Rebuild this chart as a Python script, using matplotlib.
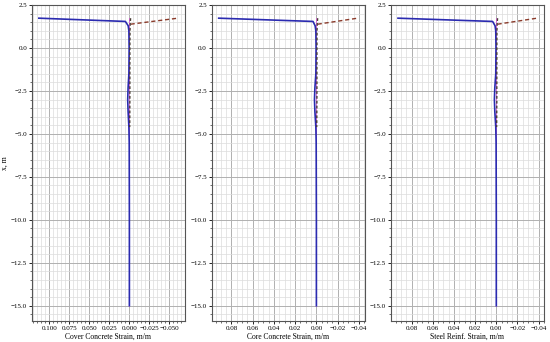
import numpy as np
import matplotlib
matplotlib.use("Agg")
from matplotlib import pyplot as plt
from matplotlib.ticker import AutoMinorLocator, MultipleLocator

plt.rcParams['font.family'] = ['Liberation Serif', 'DejaVu Serif']

# depth along pile, m
depth_blue = [1.74, 1.55, 1.3, 1.0, 0.0, -1.5, -2.3, -3.0, -3.7, -4.6, -5.5, -10.0, -15.0]
depth_dash = [1.74, 1.39, 1.0, 0.0, -1.0, -2.0, -3.0, -4.0, -4.6]
depth_red = [1.39, 1.74]

labels = ["Cover Concrete Strain, m/m", "Core Concrete Strain, m/m", "Steel Reinf. Strain, m/m"]
xstep = [0.025, 0.02, 0.02]

# strains for each panel
blue_strain = [
    [0.113, 0.005, 0.0015, 0.0006, 0.0003, 0.0006, 0.0016, 0.0021, 0.0016, 0.0006, 0.0002, 0.0, 0.0],
    [0.092, 0.0032, 0.0012, 0.0005, 0.0003, 0.0005, 0.0014, 0.0018, 0.0014, 0.0005, 0.0002, 0.0, 0.0],
    [0.093, 0.0035, 0.0012, 0.0005, 0.0003, 0.0005, 0.0014, 0.0018, 0.0014, 0.0005, 0.0002, 0.0, 0.0],
]
dash_strain = [
    [-0.0015, -0.001, -0.0008, -0.0006, -0.0006, -0.0006, -0.0006, -0.0005, -0.0004],
    [-0.0012, -0.0008, -0.0006, -0.0005, -0.0005, -0.0005, -0.0005, -0.0004, -0.0003],
    [-0.0012, -0.0008, -0.0006, -0.0005, -0.0005, -0.0005, -0.0005, -0.0004, -0.0003],
]
red_strain = [
    [-0.0015, -0.0605],
    [-0.0012, -0.0389],
    [-0.0012, -0.0385],
]

fig = plt.figure(figsize=(5.5, 3.42), dpi=100)
lefts = [0.058, 0.385, 0.711]
for i in range(3):
    ax = fig.add_axes([lefts[i], 0.061, 0.278, 0.924])
    ax.plot([0, 0], [-15.0, 1.74], color='#e060e0', lw=0.6)
    ax.plot(blue_strain[i], depth_blue, color='#2b2bb0', lw=1.2)
    ax.plot(red_strain[i], depth_red, color='#8a3a2a', lw=1.0, ls='--', dashes=(3, 2))
    ax.plot(dash_strain[i], depth_dash, color='#4a3f35', lw=1.0, ls='--', dashes=(2, 1.5))
    ax.invert_xaxis()
    ax.set_ylim(-15.9, 2.5)
    ax.xaxis.set_major_locator(MultipleLocator(xstep[i]))
    ax.yaxis.set_major_locator(MultipleLocator(2.5))
    ax.xaxis.set_minor_locator(AutoMinorLocator())
    ax.yaxis.set_minor_locator(AutoMinorLocator())
    ax.grid(which='major', color='#b0b0b0', lw=0.7)
    ax.grid(which='minor', color='#dcdcdc', lw=0.5)
    ax.tick_params(labelsize=5, length=2, width=0.6, pad=1.5)
    ax.tick_params(which='minor', length=1.2, width=0.4)
    ax.set_xlabel(labels[i], fontsize=5.5, labelpad=1.5)
    for s in ax.spines.values():
        s.set_color('#555555')
        s.set_linewidth(0.8)
    if i == 0:
        ax.set_ylabel("x, m", fontsize=5.5, labelpad=1.5)

fig.savefig("out.png", dpi=100)
